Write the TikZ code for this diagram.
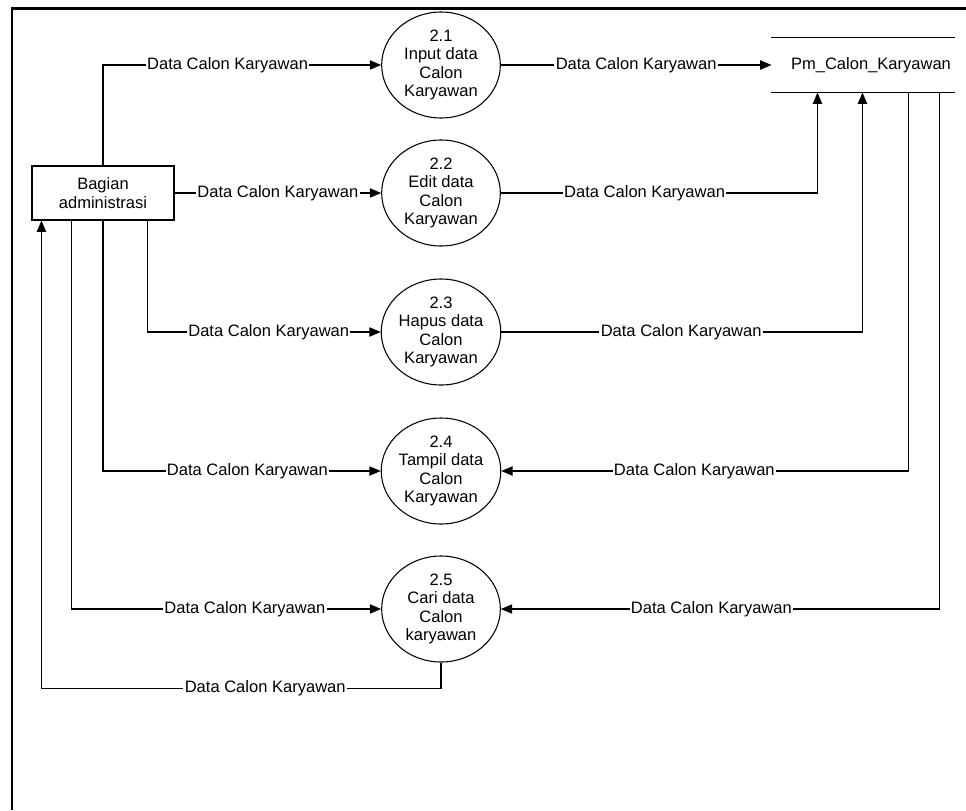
\documentclass[tikz,border=0pt]{standalone}
\usepackage{fontspec}
\setmainfont{Liberation Sans}
\usetikzlibrary{arrows.meta, shapes.geometric, calc, positioning}
\tikzset{> = {Triangle[length = 8.5pt, width = 7pt]}}
\tikzset{
  proses/.style = {draw, ellipse, minimum width = 89pt, minimum height = 79.5pt, inner sep = 0pt, align = center},
  entitas/.style = {draw, rectangle, minimum width = 106.5pt, minimum height = 40.5pt, inner sep = 1pt, align = center},
  simpanan/.style = {minimum width = 136.5pt, minimum height = 40.5pt, inner sep = 0pt},
  alir/.style = {->},
  ket/.style = {fill = white, inner sep = 1pt}
}

\begin{document}
\begin{tikzpicture}[x = 0.75pt, y = -0.75pt, line width = 0.8pt, font = \fontsize{12.4}{13.7}\selectfont]
		\useasboundingbox (0, 0) rectangle (966, 810);
		\draw [line width = 2pt] (12, 810) -- (12, 8.5) -- (966, 8.5);

		\node [entitas] (admin) at (103, 193) {Bagian\\administrasi};
		\node [proses] (p1) at (441, 65) {2.1\\Input data\\Calon\\Karyawan};
		\node [proses] (p2) at (441, 193) {2.2\\Edit data\\Calon\\Karyawan};
		\node [proses] (p3) at (441, 332) {2.3\\Hapus data\\Calon\\Karyawan};
		\node [proses] (p4) at (441, 471) {2.4\\Tampil data\\Calon\\Karyawan};
		\node [proses] (p5) at (441, 609) {2.5\\Cari data\\Calon\\karyawan};

		\node [simpanan] (store) at (863, 65) {\hspace{12pt}Pm\_Calon\_Karyawan};
		\draw (store.north west) -- (store.north east);
		\draw (store.south west) -- (store.south east);

		\draw [alir] (admin.north) |- node [ket, pos = 0.724] {Data Calon Karyawan} (p1.west);
		\draw [alir] (admin.east) -- node [ket] {Data Calon Karyawan} (p2.west);
		\draw [alir] ($(admin.south west) + (116, 0)$) |- node [ket, pos = 0.76] {Data Calon Karyawan} (p3.west);
		\draw [alir] (admin.south) |- node [ket, pos = 0.76] {Data Calon Karyawan} (p4.west);
		\draw [alir] ($(admin.south west) + (40, 0)$) |- node [ket, pos = 0.78] {Data Calon Karyawan} (p5.west);
		\draw [alir] (p5.south) -- ++(0, 26) -| node [ket, pos = 0.22] {Data Calon Karyawan} ($(admin.south west) + (10, 0)$);

		\draw [alir] (p1.east) -- node [ket] {Data Calon Karyawan} (store.west);
		\draw [alir] (p2.east) -| node [ket, pos = 0.227] {Data Calon Karyawan} ($(store.south west) + (46, 0)$);
		\draw [alir] (p3.east) -| node [ket, pos = 0.249] {Data Calon Karyawan} ($(store.south west) + (91, 0)$);
		\draw [alir] ($(store.south west) + (137, 0)$) |- node [ket, pos = 0.763] {Data Calon Karyawan} (p4.east);
		\draw [alir] ($(store.south west) + (168, 0)$) |- node [ket, pos = 0.76] {Data Calon Karyawan} (p5.east);
	\end{tikzpicture}
\end{document}
